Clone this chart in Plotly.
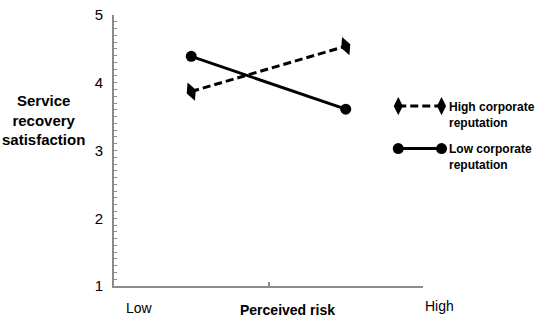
import plotly.graph_objects as go

# ---- data ----
risk_levels = [0, 1]              # Low, High perceived risk (positions on category axis)
risk_labels = ["Low", "High"]
high_rep = [3.87, 4.54]           # High corporate reputation
low_rep = [4.39, 3.61]            # Low corporate reputation
y_ticks = [1, 2, 3, 4, 5]
series_names = ["High corporate<br>reputation", "Low corporate<br>reputation"]

FONT = "Liberation Sans, Arial, sans-serif"
AXIS_COL = "#8c8c8c"

fig = go.Figure()

fig.add_trace(go.Scatter(
    x=risk_levels, y=high_rep, mode="lines+markers",
    line=dict(color="black", width=3, dash="8px,4px"),
    marker=dict(symbol="diamond-tall", size=14, color="black", angle=-22),
    showlegend=False, cliponaxis=False))
fig.add_trace(go.Scatter(
    x=risk_levels, y=low_rep, mode="lines+markers",
    line=dict(color="black", width=3),
    marker=dict(symbol="circle", size=11, color="black"),
    showlegend=False, cliponaxis=False))

# custom legend samples (line with a marker at each end) on an overlay axis
leg_rows = [0.664, 0.507]
fig.add_trace(go.Scatter(
    x=[0, 1], y=[leg_rows[0]] * 2, xaxis="x2", yaxis="y2", mode="lines+markers",
    line=dict(color="black", width=3, dash="8px,4px"),
    marker=dict(symbol="diamond-tall", size=13, color="black"),
    showlegend=False, cliponaxis=False, hoverinfo="skip"))
fig.add_trace(go.Scatter(
    x=[0, 1], y=[leg_rows[1]] * 2, xaxis="x2", yaxis="y2", mode="lines+markers",
    line=dict(color="black", width=3),
    marker=dict(symbol="circle", size=11, color="black"),
    showlegend=False, cliponaxis=False, hoverinfo="skip"))

def ann(text, x, y, size, xanchor="center", yanchor="middle", align="center"):
    return dict(text=text, x=x, y=y, xref="paper", yref="paper", showarrow=False,
                xanchor=xanchor, yanchor=yanchor, align=align,
                font=dict(size=size, color="black", family=FONT))

annotations = [
    ann("<b>Service<br>recovery<br>satisfaction</b>", -0.172, 0.611, 15),
    ann("<b>Perceived risk</b>", 0.42, -0.089, 14),
    ann(risk_labels[0], 0.063, -0.082, 14),
    ann(risk_labels[1], 0.791, -0.075, 14),
]
for name, yr in zip(series_names, leg_rows):
    annotations.append(ann(
        "<b>" + name.replace("<br>", "</b><br><b>") + "</b>",
        0.808, yr + 0.03, 12, xanchor="left", yanchor="top", align="left"))

fig.update_layout(
    width=536, height=319,
    margin=dict(l=114, r=10, t=6, b=33),
    paper_bgcolor="white", plot_bgcolor="white",
    font=dict(family=FONT, color="black"),
    xaxis=dict(domain=[0, 0.75], range=[-0.5, 1.5], tickvals=[0.5, 1.5],
               ticks="inside", ticklen=4, tickwidth=2, tickcolor=AXIS_COL,
               showticklabels=False, showgrid=False, zeroline=False,
               showline=True, linecolor=AXIS_COL, linewidth=2),
    yaxis=dict(range=[1, 5], tickvals=y_ticks, ticks="inside", ticklen=3,
               tickwidth=1, tickcolor=AXIS_COL, showgrid=False, zeroline=False,
               showline=True, linecolor=AXIS_COL, linewidth=2,
               tickfont=dict(size=15, color="black"), ticklabelstandoff=6,
               ticklabeloverflow="allow",
               minor=dict(dtick=0.1, ticks="inside", ticklen=3, tickcolor=AXIS_COL,
                          showgrid=False)),
    xaxis2=dict(domain=[0.690, 0.795], range=[0, 1], visible=False, anchor="y2"),
    yaxis2=dict(domain=[0, 1], range=[0, 1], visible=False, anchor="x2"),
    annotations=annotations,
)

fig.write_html("out.html",
               config={"displayModeBar": False},
               post_script="document.body.style.margin='0';"
                           "document.body.style.overflow='hidden';")
